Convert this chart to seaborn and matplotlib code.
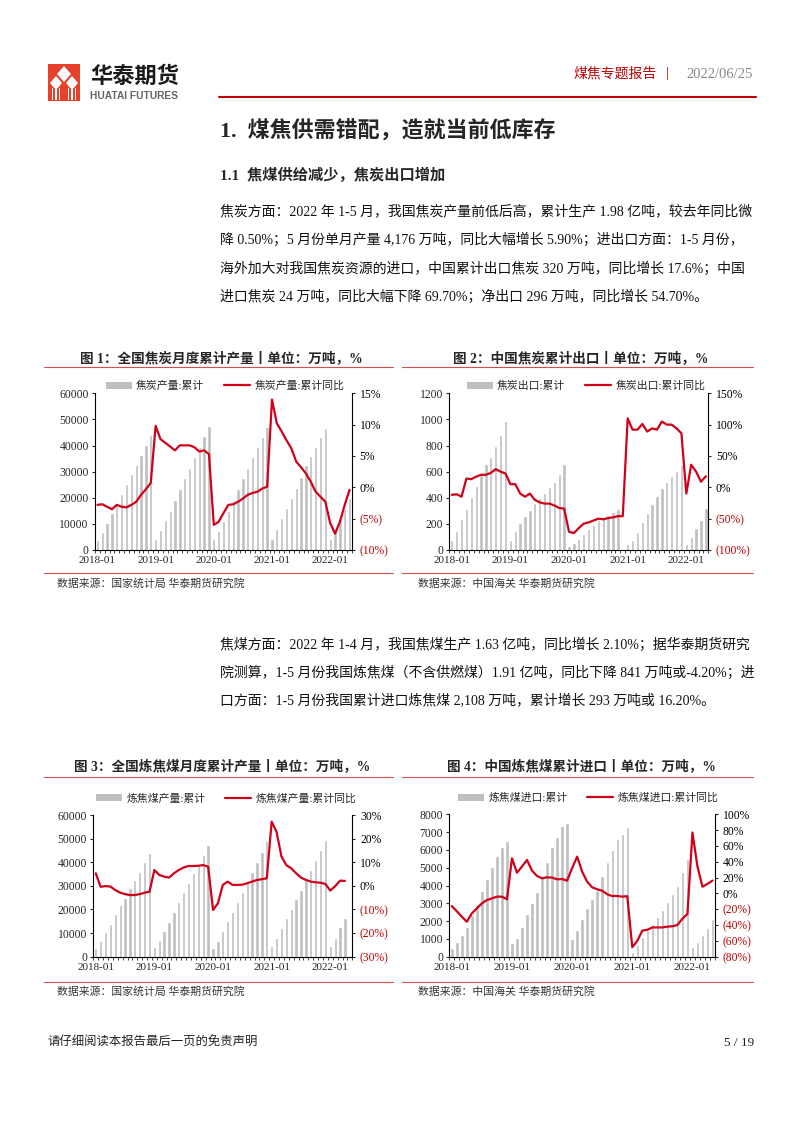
import numpy as np
import pandas as pd
import matplotlib
matplotlib.use("Agg")
import matplotlib.pyplot as plt
import seaborn as sns
from matplotlib.patches import Patch, Rectangle, Polygon
from matplotlib.lines import Line2D

# ---------------- data ----------------
months = [f"{y}-{m:02d}" for y in range(2018, 2023) for m in range(1, 13)][:53]
tick_labels = ["2018-01", "2019-01", "2020-01", "2021-01", "2022-01"]

coke_prod = [3800, 6800, 10500, 14000, 17600, 21600, 25200, 29000, 32700, 36400, 40100, 44200,
             4200, 7600, 11300, 15000, 19300, 23400, 27500, 31500, 35800, 39600, 43500, 47300,
             4100, 7200, 11000, 15000, 19000, 23200, 27400, 31400, 35500, 39500, 43300, 47100,
             4400, 8100, 12100, 16000, 19800, 23800, 27900, 32500, 36000, 39600, 43200, 46700,
             4100, 7900, 11900, 15800, 19800]
coke_prod_yoy = [-2.8, -2.7, -3.1, -3.5, -2.8, -3.1, -3.2, -2.8, -2.3, -1.2, -0.3, 0.7,
                 9.8, 7.7, 7.1, 6.5, 5.9, 6.7, 6.7, 6.7, 6.4, 5.7, 5.9, 5.3,
                 -6.0, -5.5, -4.1, -2.8, -2.7, -2.3, -1.8, -1.2, -0.9, -0.7, -0.2, 0.1,
                 14.0, 10.2, 8.9, 7.5, 6.2, 4.1, 3.2, 2.2, 0.9, -0.7, -1.5, -2.3,
                 -5.7, -7.4, -5.5, -2.8, -0.4]

coke_export = [77, 145, 235, 316, 403, 492, 575, 655, 709, 793, 878, 990,
               77, 145, 205, 262, 310, 357, 395, 439, 485, 523, 582, 658,
               28, 50, 85, 120, 160, 192, 228, 248, 270, 288, 315, np.nan,
               46, 77, 141, 212, 281, 350, 416, 472, 523, 566, 607, 651,
               43, 97, 166, 230, 324]
coke_export_yoy = [-12, -11, -15, 14, 13, 17, 20, 20, 23, 29, 25, 22,
                   5, 5, -10, -15, -10, -20, -24, -26, -26, -29, -33, -34,
                   -71, -73, -65, -58, -56, -53, -50, -51, -49, -48, -46, -46,
                   110, 92, 92, 101, 89, 94, 92, 105, 100, 100, 94, 86,
                   -10, 36, 25, 9, 17.6]

cc_prod = [3500, 6800, 10500, 14000, 18000, 21800, 25000, 29000, 32500, 36000, 40000, 43700,
           4000, 7000, 10800, 14800, 18800, 23000, 27200, 31200, 35300, 39300, 43200, 47300,
           3500, 6600, 10800, 15000, 19000, 23000, 27300, 31200, 36000, 40200, 44300, 48800,
           4500, 8000, 12300, 16200, 20200, 24300, 28200, 32400, 36500, 40800, 45000, 49400,
           4600, 8100, 12500, 16300, np.nan]
cc_prod_yoy = [5.3, -0.4, -0.1, -0.3, -1.8, -2.9, -3.5, -3.9, -3.9, -3.5, -2.9, -2.5,
               6.7, 4.6, 3.9, 3.5, 5.3, 6.7, 7.8, 8.4, 8.4, 8.5, 8.8, 8.1,
               -10.2, -7.4, 0.4, 1.8, 0.4, 0.4, 0.5, 1.1, 1.8, 2.5, 2.8, 3.2,
               27.2, 22.9, 12.4, 8.8, 7.4, 5.3, 3.5, 2.5, 1.8, 1.5, 1.3, 0.8,
               -2.0, -0.1, 2.2, 2.1, np.nan]

cc_import = [506, 826, 1219, 1685, 2343, 2961, 3691, 4365, 5056, 5657, 6180, 6480,
             750, 1033, 1650, 2400, 3000, 3652, 4450, 5337, 6146, 6742, 7343, 7528,
             977, 1500, 2101, 2719, 3224, 3747, 4551, 5303, 5994, 6596, 6900, 7260,
             281, 657, 1124, 1480, 1837, 2247, 2623, 3090, 3505, 3972, 4775, 5489,
             562, 843, 1219, 1629, 2108]
cc_import_yoy = [-16, -22.6, -29.5, -35.8, -25.2, -18.9, -12.6, -8.4, -6.3, -4.1, -4.1, -7.5,
                 44.4, 26.2, 34, 42.3, 28.8, 22, 19.1, 20.4, 20, 17.8, 18.2, 16.1,
                 32, 46.5, 27.5, 14.8, 7.7, 5.2, 3.4, -1.1, -3.3, -3.3, -4.1, -3.5,
                 -68, -60, -47, -46, -43, -43, -43, -42, -41.5, -40, -32, -26,
                 77, 34, 8.5, 12, 16.2]

para1 = ["焦炭方面：2022 年 1-5 月，我国焦炭产量前低后高，累计生产 1.98 亿吨，较去年同比微",
         "降 0.50%；5 月份单月产量 4,176 万吨，同比大幅增长 5.90%；进出口方面：1-5 月份，",
         "海外加大对我国焦炭资源的进口，中国累计出口焦炭 320 万吨，同比增长 17.6%；中国",
         "进口焦炭 24 万吨，同比大幅下降 69.70%；净出口 296 万吨，同比增长 54.70%。"]
para2 = ["焦煤方面：2022 年 1-4 月，我国焦煤生产 1.63 亿吨，同比增长 2.10%；据华泰期货研究",
         "院测算，1-5 月份我国炼焦煤（不含供燃煤）1.91 亿吨，同比下降 841 万吨或-4.20%；进",
         "口方面：1-5 月份我国累计进口炼焦煤 2,108 万吨，累计增长 293 万吨或 16.20%。"]

# ---------------- style ----------------
sns.set_theme(style="ticks")
plt.rcParams['font.family'] = ['Liberation Serif', 'Noto Sans CJK SC', 'DejaVu Sans']
plt.rcParams['axes.unicode_minus'] = False

GRAY = '#BFBFBF'
RED = '#D0021B'
NEG = '#C00000'

W, H = 802, 1133
fig = plt.figure(figsize=(W / 100, H / 100), dpi=100)
fig.patch.set_facecolor('white')

# overlay axes in pixel coordinates for page decoration/text
ov = fig.add_axes([0, 0, 1, 1])
ov.set_xlim(0, W)
ov.set_ylim(H, 0)
ov.axis('off')


def fmt_pct(v):
    return f"{v:.0f}%" if v >= 0 else f"({-v:.0f}%)"


def draw_chart(rect, bars, yoy, lmax, lstep, rmin, rmax, rstep, labels, leg_center):
    left, top, right, bottom = rect
    ax = fig.add_axes([left / W, 1 - bottom / H, (right - left) / W, (bottom - top) / H])
    n = len(months)
    df = pd.DataFrame({'month': months, 'value': bars})
    sns.barplot(data=df, x='month', y='value', order=months, color=GRAY, saturation=1,
                width=0.68, errorbar=None, ax=ax)
    ax.set_xlim(-0.5, n - 0.5)
    ax.set_ylim(0, lmax)
    lt = np.arange(0, lmax + 1, lstep)
    ax.set_yticks(lt)
    ax.set_yticklabels([f"{int(v)}" for v in lt], fontsize=8.4)
    ax.set_xticks([0, 12, 24, 36, 48])
    ax.set_xticklabels(tick_labels, fontsize=8.0)
    ax.set_xticks(np.arange(-0.5, n, 1), minor=True)
    ax.tick_params(axis='x', which='major', length=0, pad=4.5)
    ax.tick_params(axis='x', which='minor', length=2.2, width=0.6, direction='out', bottom=True)
    ax.tick_params(axis='y', length=2.5, width=0.8, direction='out', pad=2, left=True)
    ax.set_xlabel('')
    ax.set_ylabel('')
    for s in ['top', 'right']:
        ax.spines[s].set_visible(False)
    for s in ['left', 'bottom']:
        ax.spines[s].set_linewidth(0.8)
        ax.spines[s].set_color('black')

    ax2 = ax.twinx()
    sns.lineplot(x=np.arange(n), y=yoy, ax=ax2, color=RED, linewidth=1.6)
    ax2.set_xlim(-0.5, n - 0.5)
    ax2.set_ylim(rmin, rmax)
    rt = np.arange(rmin, rmax + 0.1, rstep)
    ax2.set_yticks(rt)
    ax2.set_yticklabels([fmt_pct(v) for v in rt], fontsize=8.4)
    for lbl, v in zip(ax2.get_yticklabels(), rt):
        lbl.set_color(NEG if v < 0 else 'black')
    ax2.tick_params(axis='y', length=2.5, width=0.8, direction='out', pad=3, right=True)
    ax2.set_ylabel('')
    for s in ['top', 'left', 'bottom']:
        ax2.spines[s].set_visible(False)
    ax2.spines['right'].set_linewidth(0.8)
    ax2.spines['right'].set_color('black')

    handles = [Patch(facecolor=GRAY, edgecolor='none', label=labels[0]),
               Line2D([0], [0], color=RED, lw=1.6, label=labels[1])]
    fig.legend(handles=handles, loc='center', ncol=2, frameon=False, fontsize=7.8,
               bbox_to_anchor=(leg_center[0] / W, 1 - leg_center[1] / H),
               handlelength=2.4, handleheight=0.6, handletextpad=0.4,
               columnspacing=1.8, borderpad=0, borderaxespad=0)
    return ax, ax2


# ---------------- charts ----------------
draw_chart((95, 393.3, 352, 550), coke_prod, coke_prod_yoy, 60000, 10000, -10, 15, 5,
           ["焦炭产量:累计", "焦炭产量:累计同比"], (225, 385.7))
draw_chart((449.3, 393.3, 708.3, 550), coke_export, coke_export_yoy, 1200, 200, -100, 150, 50,
           ["焦炭出口:累计", "焦炭出口:累计同比"], (586, 385.7))
draw_chart((93.3, 815, 352.3, 956.7), cc_prod, cc_prod_yoy, 60000, 10000, -30, 30, 10,
           ["炼焦煤产量:累计", "炼焦煤产量:累计同比"], (226, 798.3))
draw_chart((449.3, 814.3, 715, 956.7), cc_import, cc_import_yoy, 8000, 1000, -80, 100, 20,
           ["炼焦煤进口:累计", "炼焦煤进口:累计同比"], (588, 797.7))

# ---------------- page decoration ----------------
# logo
ov.add_patch(Rectangle((48, 64), 32, 37, facecolor='#E5412B', edgecolor='none'))
ov.add_patch(Polygon([(64, 66), (71, 74), (64, 82), (57, 74)], facecolor='white', edgecolor='none'))
ov.add_patch(Polygon([(56, 76), (62, 83), (56, 90), (50, 83)], facecolor='white', edgecolor='none'))
ov.add_patch(Polygon([(72, 76), (78, 83), (72, 90), (66, 83)], facecolor='white', edgecolor='none'))
for xx in [52.5, 56, 59.5, 68.5, 72, 75.5]:
    ov.add_patch(Rectangle((xx - 0.7, 88), 1.4, 12, facecolor='white', edgecolor='none'))
ov.text(90, 76, "华泰期货", fontsize=16, fontweight='bold', va='center', ha='left',
        family=['Noto Sans CJK SC'], color='#1a1a1a')
ov.text(90, 96, "HUATAI FUTURES", fontsize=7.4, fontweight='bold', va='center', ha='left',
        family=['Liberation Sans'], color='#666666')

ov.text(574, 74, "煤焦专题报告", fontsize=10, color=NEG, va='center', ha='left')
ov.text(667, 74, "|", fontsize=10, color=NEG, va='center', ha='center')
ov.text(753, 74, "2022/06/25", fontsize=10.5, color='#888888', va='center', ha='right')
ov.plot([219, 756], [96.7, 96.7], color='#C00000', lw=1.5)

ov.text(220, 131.7, "1.  煤焦供需错配，造就当前低库存", fontsize=15.8, fontweight='bold',
        va='center', ha='left')
ov.text(220, 175, "1.1  焦煤供给减少，焦炭出口增加", fontsize=11, fontweight='bold',
        va='center', ha='left')

for i, line in enumerate(para1):
    ov.text(220, 211.7 + 28.4 * i, line, fontsize=10, va='center', ha='left', color='#111111')
for i, line in enumerate(para2):
    ov.text(220, 645 + 28.2 * i, line, fontsize=10, va='center', ha='left', color='#111111')

# chart titles, rules and sources
titles = [("图 1：全国焦炭月度累计产量丨单位：万吨，%", 221, 358.3),
          ("图 2：中国焦炭累计出口丨单位：万吨，%", 581, 358.3),
          ("图 3：全国炼焦煤月度累计产量丨单位：万吨，%", 221.7, 766.7),
          ("图 4：中国炼焦煤累计进口丨单位：万吨，%", 581.7, 766.7)]
for t, x, y in titles:
    ov.text(x, y, t, fontsize=9.8, fontweight='bold', va='center', ha='center')

for (x0, x1), y in [((44, 393), 367), ((402, 753), 367), ((44, 393), 776.5), ((402, 753), 776.5),
                    ((44, 393), 573.3), ((402, 753), 573.3), ((44, 393), 981.7), ((402, 753), 981.7)]:
    ov.plot([x0, x1], [y, y], color='#D05050', lw=0.8)

sources = [("数据来源：国家统计局 华泰期货研究院", 57, 583.3),
           ("数据来源：中国海关 华泰期货研究院", 418, 583.3),
           ("数据来源：国家统计局 华泰期货研究院", 57, 991.7),
           ("数据来源：中国海关 华泰期货研究院", 418, 991.7)]
for t, x, y in sources:
    ov.text(x, y, t, fontsize=7.8, va='center', ha='left', color='#333333')

ov.text(47, 1043, "请仔细阅读本报告最后一页的免责声明", fontsize=8.9, va='center', ha='left',
        color='#222222')
ov.text(754, 1043, "5 / 19", fontsize=9.5, va='center', ha='right', color='#222222')

fig.savefig("out.png", dpi=100, facecolor='white')
